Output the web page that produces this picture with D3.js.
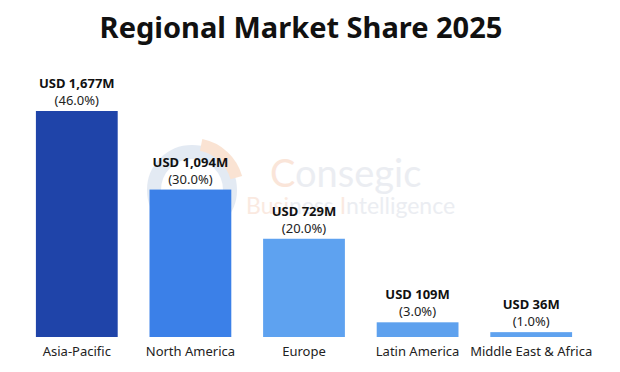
<!DOCTYPE html>
<html>
<head>
<meta charset="utf-8">
<script src="https://cdn.jsdelivr.net/npm/d3@7"></script>
<style>
  body { margin: 0; background: #fff; }
  text { font-family: "Noto Sans", "Open Sans", sans-serif; }
  .title { font-size: 29px; font-weight: 700; fill: #111; }
  .val { font-size: 13px; font-weight: 700; fill: #111; }
  .pct { font-size: 13px; fill: #222; }
  .cat { font-size: 13px; fill: #222; }
</style>
</head>
<body>
<div id="app"></div>
<script>
const regions = ['Asia-Pacific', 'North America', 'Europe', 'Latin America', 'Middle East & Africa'];
const values = [1677, 1094, 729, 109, 36];
const shares = [46.0, 30.0, 20.0, 3.0, 1.0];
const colors = ['#1f44a9', '#3b80e8', '#5ea2f0', '#5ea1ee', '#5fa2ef'];

const width = 620;
const height = 372;
const baseline = 337;

const svg = d3.select('#app').append('svg').attr('width', width).attr('height', height);

// watermark
const wm = svg.append('g').attr('opacity', 0.5);
wm.append('circle').attr('cx', 192).attr('cy', 190).attr('r', 38)
  .attr('fill', 'none').attr('stroke', '#c9d6e8').attr('stroke-width', 14);
wm.append('path')
  .attr('d', d3.arc()({ innerRadius: 40, outerRadius: 52, startAngle: 0.2, endAngle: 1.3 }))
  .attr('transform', 'translate(192,190)').attr('fill', '#f6c9a8');
wm.append('text').attr('x', 270).attr('y', 187).attr('font-size', 38)
  .attr('fill', '#d8dde6').style('font-family', 'Lato, sans-serif')
  .html('<tspan fill="#f7cdb5">C</tspan>onsegic');
wm.append('text').attr('x', 246).attr('y', 214).attr('font-size', 23)
  .attr('fill', '#d8dde6').style('font-family', 'Lato, sans-serif')
  .html('<tspan fill="#f7d5c3">Busi</tspan>ness <tspan fill="#f7d5c3">I</tspan>ntelligence');

svg.append('text').attr('class', 'title')
  .attr('x', 301).attr('y', 38).attr('text-anchor', 'middle')
  .text('Regional Market Share 2025');

const x = d3.scaleBand(regions, [20, 588]).paddingInner(0.28).paddingOuter(0.14);
const y = d3.scaleLinear([0, 1677], [baseline, 111]);

const data = regions.map((r, i) => ({ r, v: values[i], s: shares[i], c: colors[i] }));

const g = svg.selectAll('g.bar').data(data).join('g').attr('class', 'bar');

g.append('rect')
  .attr('x', d => x(d.r))
  .attr('y', d => y(d.v))
  .attr('width', x.bandwidth())
  .attr('height', d => baseline - y(d.v))
  .attr('fill', d => d.c);

g.append('text').attr('class', 'val')
  .attr('x', d => x(d.r) + x.bandwidth() / 2)
  .attr('y', d => y(d.v) - 23)
  .attr('text-anchor', 'middle')
  .text(d => 'USD ' + d3.format(',')(d.v) + 'M');

g.append('text').attr('class', 'pct')
  .attr('x', d => x(d.r) + x.bandwidth() / 2)
  .attr('y', d => y(d.v) - 6)
  .attr('text-anchor', 'middle')
  .text(d => '(' + d.s.toFixed(1) + '%)');

g.append('text').attr('class', 'cat')
  .attr('x', d => x(d.r) + x.bandwidth() / 2)
  .attr('y', 356)
  .attr('text-anchor', 'middle')
  .text(d => d.r);
</script>
</body>
</html>
